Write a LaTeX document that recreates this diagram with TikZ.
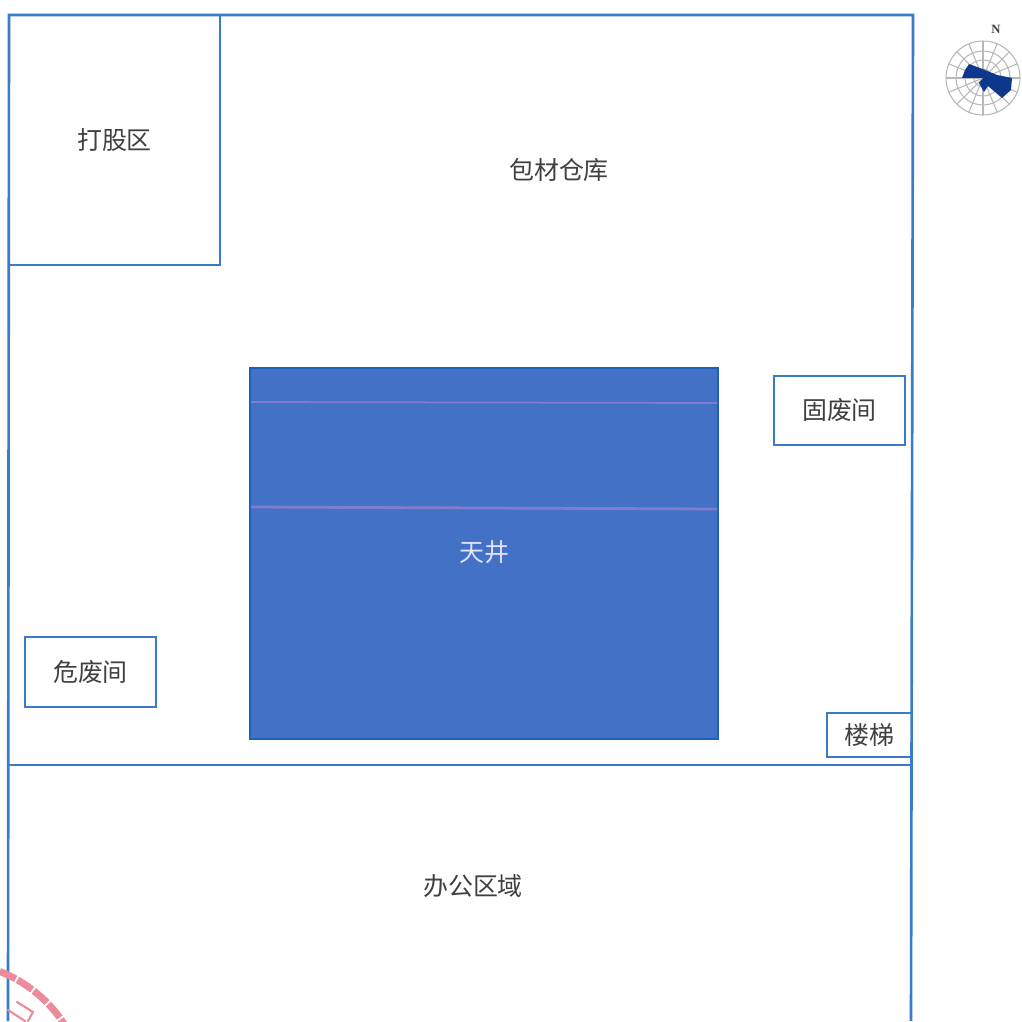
\documentclass[tikz,border=0pt]{standalone}
\usepackage{fontspec}
\setmainfont{Noto Sans CJK SC}
\newfontfamily\rosefont{Liberation Serif}
\definecolor{planblue}{RGB}{58,124,203}
\definecolor{wellblue}{RGB}{66,113,197}
\definecolor{welledge}{RGB}{28,98,184}
\definecolor{wellseam}{RGB}{128,126,204}
\definecolor{rosenavy}{RGB}{14,56,140}
\definecolor{sealred}{RGB}{236,140,154}
\begin{document}
\begin{tikzpicture}
	\tikzstyle{room}=[rectangle, draw=planblue, line width=0.75pt, text=black!75,
	font=\fontsize{7.1}{8}\selectfont, inner sep=0pt]
	\tikzstyle{area}=[rectangle, text=black!75, font=\fontsize{7.1}{8}\selectfont, inner sep=0pt]
	\tikzstyle{well}=[rectangle, draw=welledge, fill=wellblue, line width=0.75pt, text=white!88!blue,
	font=\fontsize{7.1}{8}\selectfont, inner sep=0pt]
	\tikzstyle{wall}=[draw=planblue, line width=0.75pt]
	\tikzstyle{roseline}=[draw=black!28, line width=0.3pt]
	\tikzstyle{seal}=[draw=sealred, line width=1.1pt]

	\useasboundingbox (0,0) rectangle (10.22,10.21);
	\clip (0,0) rectangle (10.22,10.21);
	\fill[white] (0,0) rectangle (10.22,10.21);

	% outer walls
	\coordinate (cornerNW) at (0.09,10.06);
	\coordinate (cornerNE) at (9.13,10.06);
	\coordinate (footW) at (0.08,0);
	\coordinate (footE) at (9.11,0);
	\coordinate (midW) at (0.085,2.56);
	\coordinate (midE) at (9.12,2.56);
	\draw[wall] (footW) -- (cornerNW) -- (cornerNE) -- (footE);
	\draw[wall] (midW) -- (midE);

	% rooms
	\node[room, minimum width=2.11cm, minimum height=2.50cm] at (1.145,8.81) (beating) {打股区};
	\node[well, minimum width=4.68cm, minimum height=3.71cm] at (4.84,4.675) (skylight) {\raisebox{1.2pt}{天井}\hspace{1.2pt}};
	\node[room, minimum width=1.31cm, minimum height=0.69cm] at (8.395,6.105) (solidwaste) {固废间};
	\node[room, minimum width=1.31cm, minimum height=0.70cm] at (0.905,3.49) (hazwaste) {危废间};
	\node[room, minimum width=0.85cm, minimum height=0.44cm] at (8.695,2.86) (stairs) {楼梯};
	\node[area] at (5.59,8.51) (storage) {包材仓库};
	\node[area] at (4.73,1.35) (office) {办公区域};

	% faint seams across the skylight
	\draw[wellseam, line width=0.5pt] (2.51,6.19) -- (7.17,6.18);
	\draw[wellseam, line width=0.8pt] (2.51,5.14) -- (7.17,5.12);

	% wind rose
	\begin{scope}[shift={(9.83,9.43)}]
		\foreach \r in {0.09,0.18,0.27,0.37}
			\draw[roseline] (0,0) circle (\r);
		\foreach \a in {0,22.5,...,337.5}
			\draw[roseline] (0,0) -- (\a:0.37);
		\fill[rosenavy] (0,0) -- (-0.21,0) -- (-0.18,0.08) -- (-0.14,0.14) -- (-0.03,0.10)
		-- (0.14,0.03) -- (0.29,0) -- (0.28,-0.12) -- (0.19,-0.20) -- (0.05,-0.08)
		-- (0.01,-0.14) -- (-0.04,-0.05) -- cycle;
		\node[font=\fontsize{3.6}{4}\selectfont\rosefont\bfseries, text=black!75, inner sep=0pt] at (0.13,0.49) (north) {N};
	\end{scope}

	% stamp
	\draw[seal, line width=2pt, dash pattern=on 5pt off 0.6pt] (-0.50,-0.77) ++(110:1.36) arc (110:30:1.36);
	\draw[seal, line cap=round, line width=0.6pt] (0.17,0.19) -- (0.33,0.09) -- (0.28,0);
	\draw[seal, line cap=round, line width=0.6pt] (0.08,0.11) -- (0.25,0);
\end{tikzpicture}
\end{document}
